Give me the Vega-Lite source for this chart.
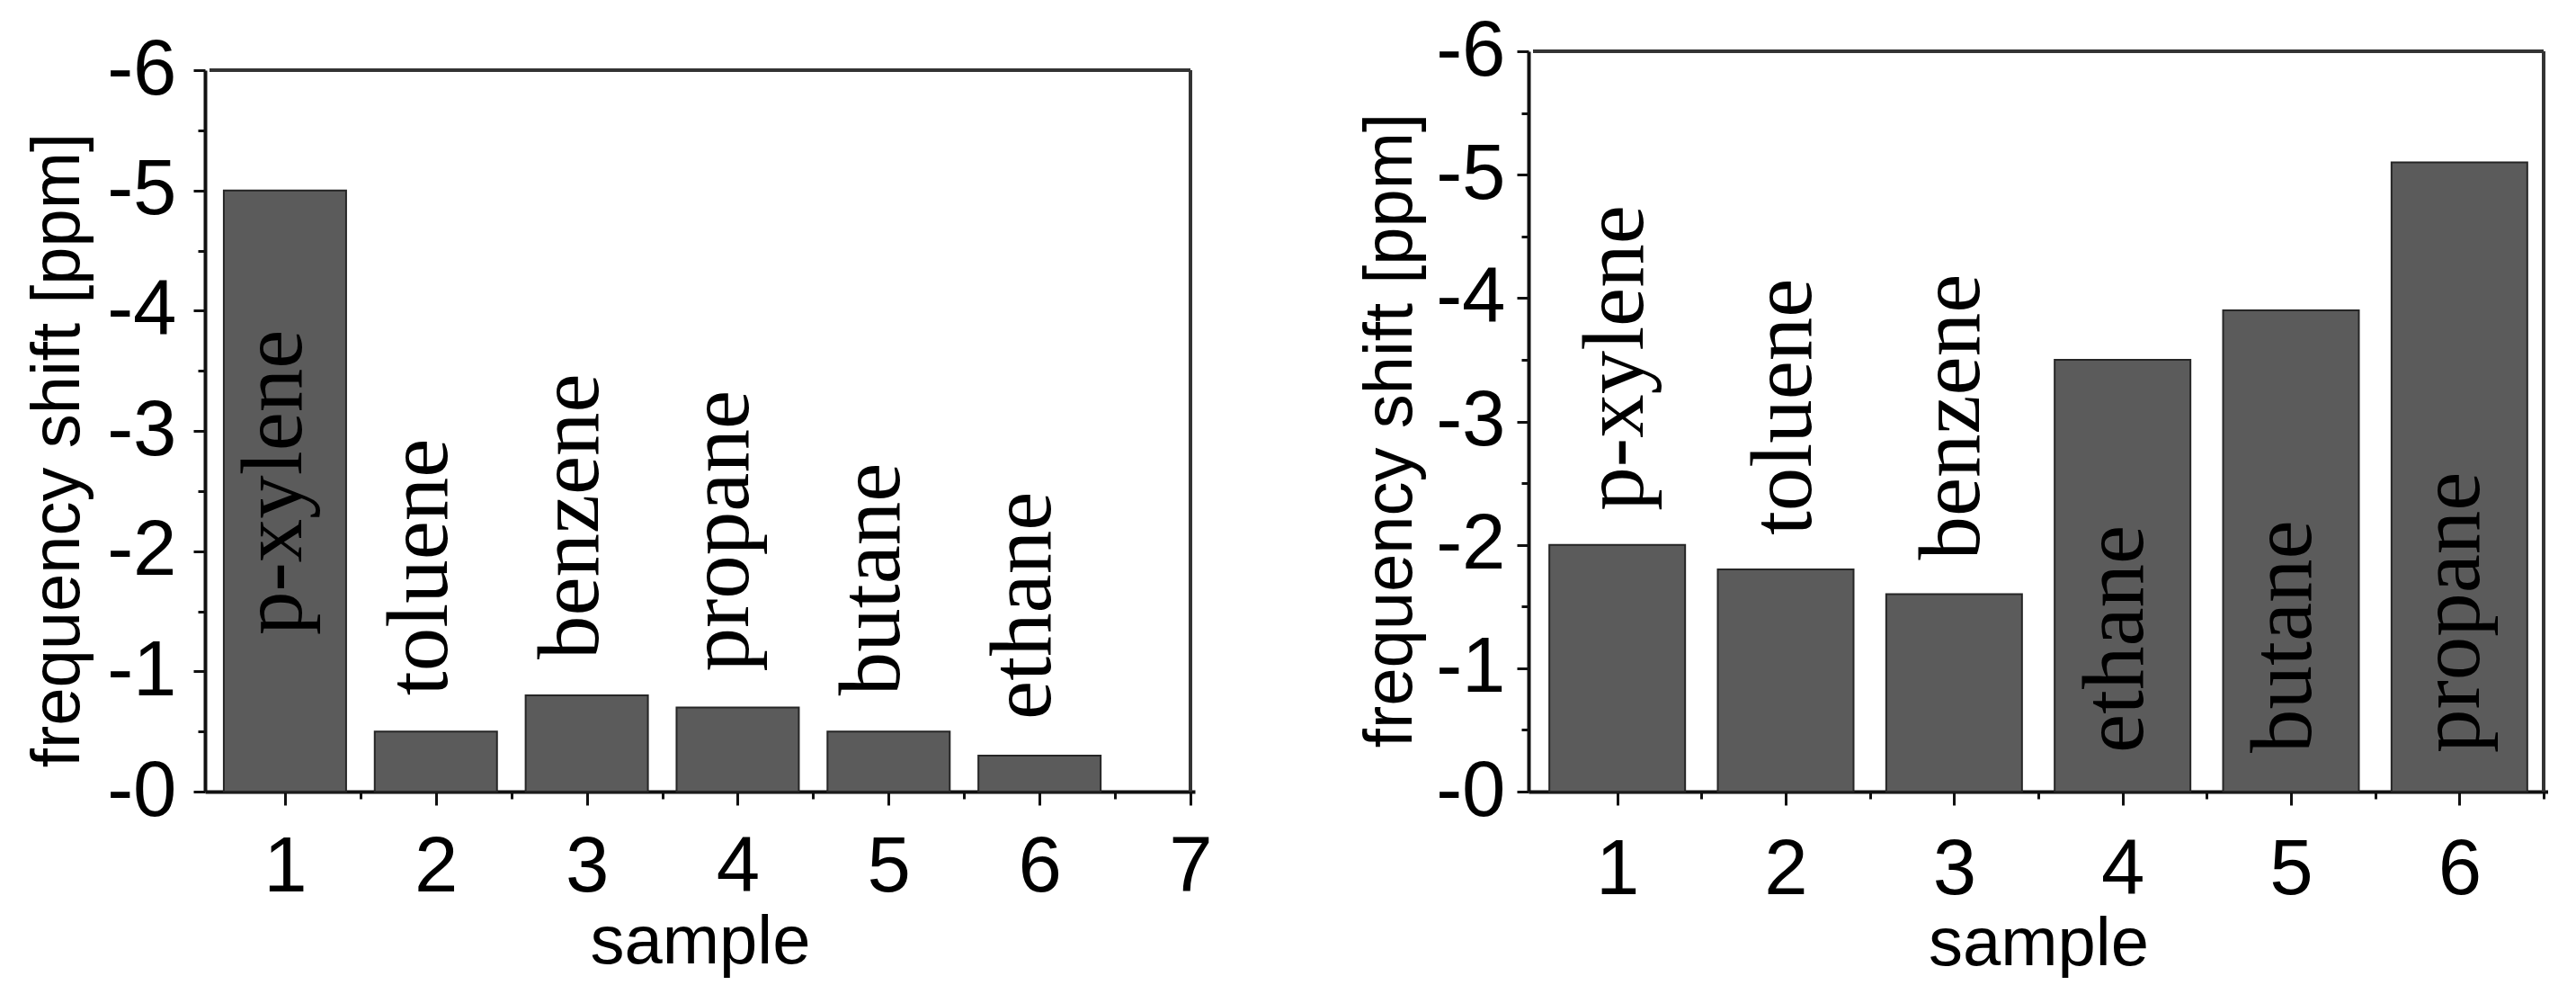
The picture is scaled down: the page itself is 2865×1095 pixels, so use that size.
{
  "$schema": "https://vega.github.io/schema/vega-lite/v6.json",
  "background": "white",
  "padding": {"left": 25, "top": 13, "right": 0, "bottom": 0},
  "bounds": "flush",
  "spacing": 371,
  "config": {
    "view": {"stroke": null},
    "axis": {
      "domainColor": "#111", "domainWidth": 4, "tickColor": "#111", "tickWidth": 3,
      "labelFont": "Liberation Sans", "labelFontSize": 87, "labelColor": "#000",
      "titleFont": "Liberation Sans", "titleFontSize": 76, "titleFontWeight": "normal", "titleColor": "#000",
      "grid": false, "labelFlush": false, "labelOverlap": false
    }
  },
  "hconcat": [
    {
      "width": 1101,
      "height": 823,
      "data": {"values": [
        {"sample": 1, "compound": "p-xylene", "shift": -5.0},
        {"sample": 2, "compound": "toluene", "shift": -0.5},
        {"sample": 3, "compound": "benzene", "shift": -0.8},
        {"sample": 4, "compound": "propane", "shift": -0.7},
        {"sample": 5, "compound": "butane", "shift": -0.5},
        {"sample": 6, "compound": "ethane", "shift": -0.3}
      ]},
      "layer": [
        {"mark": {"type": "bar", "width": 136, "fill": "#5b5b5b", "stroke": "#262626", "strokeWidth": 2},
          "encoding": {
            "x": {"field": "sample", "type": "quantitative",
              "scale": {"domain": [0.5, 7], "nice": false, "zero": false},
              "axis": {"values": [1, 1.5, 2, 2.5, 3, 3.5, 4, 4.5, 5, 5.5, 6, 6.5, 7],
                "labelExpr": "datum.value % 1 == 0 ? '' + datum.value : ''",
                "tickSize": {"condition": {"test": "datum.value % 1 == 0", "value": 15}, "value": 8},
                "labelPadding": 26, "title": "sample", "titleY": 190, "titleBaseline": "alphabetic"}},
            "y": {"field": "shift", "type": "quantitative",
              "scale": {"domain": [0, -6], "range": [823, 21], "nice": false, "zero": false},
              "axis": {"values": [0, -0.5, -1, -1.5, -2, -2.5, -3, -3.5, -4, -4.5, -5, -5.5, -6],
                "labelExpr": "datum.value % 1 == 0 ? '-' + abs(datum.value) : ''",
                "tickSize": {"condition": {"test": "datum.value % 1 == 0", "value": 13}, "value": 8},
                "labelPadding": 19, "title": "frequency shift [ppm]", "titleX": -141, "titleY": 443, "titleBaseline": "alphabetic"}}
          }},
        {"mark": {"type": "rule", "color": "#333", "strokeWidth": 3},
          "encoding": {"x": {"datum": 0.5, "type": "quantitative"}, "x2": {"datum": 7}, "y": {"datum": -6, "type": "quantitative"}}},
        {"mark": {"type": "rule", "color": "#333", "strokeWidth": 3},
          "encoding": {"x": {"datum": 7, "type": "quantitative"}, "y": {"datum": 0, "type": "quantitative"}, "y2": {"datum": -6}}},
        {"transform": [{"filter": "datum.shift > -3"}],
          "mark": {"type": "text", "angle": 270, "align": "left", "baseline": "alphabetic", "dx": 40, "dy": 12,
            "font": "Liberation Serif", "fontSize": 97, "color": "#000"},
          "encoding": {"text": {"field": "compound"},
            "x": {"field": "sample", "type": "quantitative"},
            "y": {"field": "shift", "type": "quantitative"}}},
        {"transform": [{"filter": "datum.shift <= -3"}],
          "mark": {"type": "text", "angle": 270, "align": "left", "baseline": "alphabetic", "dx": 174, "dy": 18,
            "font": "Liberation Serif", "fontSize": 97, "color": "#000"},
          "encoding": {"text": {"field": "compound"},
            "x": {"field": "sample", "type": "quantitative"},
            "y": {"datum": 0, "type": "quantitative"}}}
      ]
    },
    {
      "width": 1134,
      "height": 823,
      "data": {"values": [
        {"sample": 1, "compound": "p-xylene", "shift": -2.0},
        {"sample": 2, "compound": "toluene", "shift": -1.8},
        {"sample": 3, "compound": "benzene", "shift": -1.6},
        {"sample": 4, "compound": "ethane", "shift": -3.5},
        {"sample": 5, "compound": "butane", "shift": -3.9},
        {"sample": 6, "compound": "propane", "shift": -5.1}
      ]},
      "layer": [
        {"mark": {"type": "bar", "width": 151, "fill": "#5b5b5b", "stroke": "#262626", "strokeWidth": 2},
          "encoding": {
            "x": {"field": "sample", "type": "quantitative",
              "scale": {"domain": [0.5, 6.5], "nice": false, "zero": false},
              "axis": {"values": [1, 1.5, 2, 2.5, 3, 3.5, 4, 4.5, 5, 5.5, 6, 6.5],
                "labelExpr": "datum.value % 1 == 0 ? '' + datum.value : ''",
                "tickSize": {"condition": {"test": "datum.value % 1 == 0", "value": 15}, "value": 8},
                "labelPadding": 29, "title": "sample", "titleY": 192, "titleBaseline": "alphabetic"}},
            "y": {"field": "shift", "type": "quantitative",
              "scale": {"domain": [0, -6], "nice": false, "zero": false},
              "axis": {"values": [0, -0.5, -1, -1.5, -2, -2.5, -3, -3.5, -4, -4.5, -5, -5.5, -6],
                "labelExpr": "datum.value % 1 == 0 ? '-' + abs(datum.value) : ''",
                "tickSize": {"condition": {"test": "datum.value % 1 == 0", "value": 13}, "value": 8},
                "labelPadding": 13, "title": "frequency shift [ppm]", "titleX": -131, "titleY": 421, "titleBaseline": "alphabetic"}}
          }},
        {"mark": {"type": "rule", "color": "#333", "strokeWidth": 3},
          "encoding": {"x": {"datum": 0.5, "type": "quantitative"}, "x2": {"datum": 6.5}, "y": {"datum": -6, "type": "quantitative"}}},
        {"mark": {"type": "rule", "color": "#333", "strokeWidth": 3},
          "encoding": {"x": {"datum": 6.5, "type": "quantitative"}, "y": {"datum": 0, "type": "quantitative"}, "y2": {"datum": -6}}},
        {"transform": [{"filter": "datum.shift > -3"}],
          "mark": {"type": "text", "angle": 270, "align": "left", "baseline": "alphabetic", "dx": 38, "dy": 28,
            "font": "Liberation Serif", "fontSize": 97, "color": "#000"},
          "encoding": {"text": {"field": "compound"},
            "x": {"field": "sample", "type": "quantitative"},
            "y": {"field": "shift", "type": "quantitative"}}},
        {"transform": [{"filter": "datum.shift <= -3"}],
          "mark": {"type": "text", "angle": 270, "align": "left", "baseline": "alphabetic", "dx": 43, "dy": 22,
            "font": "Liberation Serif", "fontSize": 97, "color": "#000"},
          "encoding": {"text": {"field": "compound"},
            "x": {"field": "sample", "type": "quantitative"},
            "y": {"datum": 0, "type": "quantitative"}}}
      ]
    }
  ]
}
